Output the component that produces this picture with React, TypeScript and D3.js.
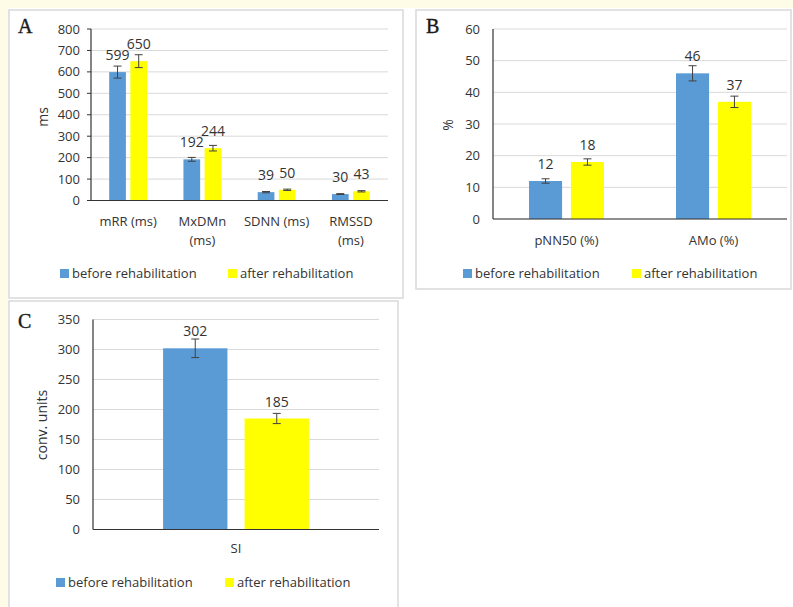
import React from "react";
import * as d3 from "d3";

// ---------- data ----------
const seriesNames = ["before rehabilitation", "after rehabilitation"];
const seriesColors = ["#5B9BD5", "#FFFF00"];

const catsA = ["mRR (ms)", "MxDMn (ms)", "SDNN (ms)", "RMSSD (ms)"];
const beforeA = [599, 192, 39, 30];
const afterA = [650, 244, 50, 43];
const errBeforeA = [28, 9, 3, 2];
const errAfterA = [30, 13, 3, 3];
const ticksA = [0, 100, 200, 300, 400, 500, 600, 700, 800];

const catsB = ["pNN50 (%)", "AMo (%)"];
const beforeB = [12, 46];
const afterB = [18, 37];
const errBeforeB = [0.7, 2.4];
const errAfterB = [1, 1.8];
const ticksB = [0, 10, 20, 30, 40, 50, 60];

const catsC = ["SI"];
const beforeC = [302];
const afterC = [185];
const errBeforeC = [15.5];
const errAfterC = [8.5];
const ticksC = [0, 50, 100, 150, 200, 250, 300, 350];

const FONT = "'Open Sans', 'DejaVu Sans', sans-serif";
const TEXT = "#333333";

type PanelProps = {
  letter: string;
  box: [number, number, number, number];
  letterPos: [number, number];
  cats: string[];
  before: number[];
  after: number[];
  errB: number[];
  errA: number[];
  ticks: number[];
  xRange: [number, number];
  yRange: [number, number];
  yTitle: string;
  yTitlePos: [number, number];
  catBaseline: number;
  legend: { y: number; xs: [number, number] };
  tickMarks: boolean;
  tickGap: number;
};

function Panel(p: PanelProps) {
  const x = d3.scaleBand<string>().domain(p.cats).range(p.xRange).padding(0);
  const y = d3
    .scaleLinear()
    .domain([p.ticks[0], p.ticks[p.ticks.length - 1]])
    .range(p.yRange);
  const bw = x.bandwidth();
  const barW = bw * 0.225;
  const gap = bw * 0.06;
  const axisX = p.xRange[0];
  const series = [
    { vals: p.before, errs: p.errB, color: seriesColors[0], off: -gap / 2 - barW },
    { vals: p.after, errs: p.errA, color: seriesColors[1], off: gap / 2 },
  ];
  const [bx, by, bw2, bh] = p.box;
  return (
    <g>
      <rect x={bx} y={by} width={bw2} height={bh} fill="#ffffff" stroke="#d9d9d9" strokeWidth={1.5} />
      <text
        x={p.letterPos[0]}
        y={p.letterPos[1]}
        fontFamily="'Liberation Serif', serif"
        fontSize={20}
        fill="#1a1a1a"
        stroke="#1a1a1a"
        strokeWidth={0.4}
      >
        {p.letter}
      </text>
      {/* gridlines */}
      {p.ticks.map((t) => (
        <line key={"g" + t} x1={axisX} x2={p.xRange[1]} y1={y(t)} y2={y(t)} stroke="#d9d9d9" strokeWidth={1} />
      ))}
      {/* tick labels */}
      {p.ticks.map((t) => (
        <text
          key={"t" + t}
          x={axisX - p.tickGap}
          y={y(t)}
          dy="0.35em"
          textAnchor="end"
          fontFamily={FONT}
          fontSize={13}
          fill={TEXT}
        >
          {t}
        </text>
      ))}
      {p.tickMarks &&
        p.ticks.map((t) => (
          <line key={"m" + t} x1={axisX - 4} x2={axisX} y1={y(t)} y2={y(t)} stroke="#333" strokeWidth={1} />
        ))}
      {/* bars */}
      {series.map((s, si) =>
        p.cats.map((c, i) => {
          const cx = (x(c) as number) + bw / 2;
          const x0 = cx + s.off;
          const v = s.vals[i];
          const e = s.errs[i];
          const mid = x0 + barW / 2;
          return (
            <g key={si + "-" + c}>
              <rect x={x0} y={y(v)} width={barW} height={y(0) - y(v)} fill={s.color} />
              <line x1={mid} x2={mid} y1={y(v + e)} y2={y(v - e)} stroke="#404040" strokeWidth={1} />
              <line x1={mid - 4} x2={mid + 4} y1={y(v + e)} y2={y(v + e)} stroke="#404040" strokeWidth={1} />
              <line x1={mid - 4} x2={mid + 4} y1={y(v - e)} y2={y(v - e)} stroke="#404040" strokeWidth={1} />
              <text x={mid} y={y(v) - 12} textAnchor="middle" fontFamily={FONT} fontSize={14} fill={TEXT}>
                {d3.format("d")(v)}
              </text>
            </g>
          );
        })
      )}
      {/* axes */}
      <line x1={axisX} x2={axisX} y1={y(p.ticks[p.ticks.length - 1])} y2={y(0)} stroke="#333" strokeWidth={1.2} />
      <line x1={axisX} x2={p.xRange[1]} y1={y(0)} y2={y(0)} stroke="#333" strokeWidth={1.2} />
      {/* category labels */}
      {p.cats.map((c) => {
        const cx = (x(c) as number) + bw / 2;
        const lines = c.length > 9 ? [c.slice(0, c.lastIndexOf(" ")), c.slice(c.lastIndexOf(" ") + 1)] : [c];
        return (
          <text key={"c" + c} textAnchor="middle" fontFamily={FONT} fontSize={13} fill={TEXT}>
            {lines.map((l, li) => (
              <tspan key={li} x={cx} y={p.catBaseline + li * 19}>
                {l}
              </tspan>
            ))}
          </text>
        );
      })}
      {/* y title */}
      <text
        transform={`translate(${p.yTitlePos[0]},${p.yTitlePos[1]}) rotate(-90)`}
        textAnchor="middle"
        dy="0.35em"
        fontFamily={FONT}
        fontSize={14}
        fill={TEXT}
      >
        {p.yTitle}
      </text>
      {/* legend */}
      {seriesNames.map((n, i) => (
        <g key={"l" + n}>
          <rect x={p.legend.xs[i]} y={p.legend.y - 9} width={9} height={9} fill={seriesColors[i]} />
          <text x={p.legend.xs[i] + 12} y={p.legend.y} fontFamily={FONT} fontSize={13} fill={TEXT}>
            {n}
          </text>
        </g>
      ))}
    </g>
  );
}

export default function App() {
  return (
    <div style={{ position: "absolute", left: 0, top: 0 }}>
      <svg width={793} height={607} style={{ display: "block" }}>
        <rect x={0} y={0} width={793} height={607} fill="#ffffff" />
        <rect x={0} y={0} width={793} height={8} fill="#fefbe7" />
        <rect x={0} y={0} width={8} height={607} fill="#fefbe7" />
        <Panel
          letter="A"
          box={[9, 10, 394, 288]}
          letterPos={[18, 33]}
          cats={catsA}
          before={beforeA}
          after={afterA}
          errB={errBeforeA}
          errA={errAfterA}
          ticks={ticksA}
          xRange={[91, 388]}
          yRange={[200.5, 29]}
          yTitle="ms"
          yTitlePos={[43, 117]}
          catBaseline={226}
          legend={{ y: 278, xs: [60, 228] }}
          tickMarks={true}
          tickGap={11}
        />
        <Panel
          letter="B"
          box={[416, 10, 375, 279]}
          letterPos={[426, 33]}
          cats={catsB}
          before={beforeB}
          after={afterB}
          errB={errBeforeB}
          errA={errAfterB}
          ticks={ticksB}
          xRange={[493, 787]}
          yRange={[219, 29]}
          yTitle="%"
          yTitlePos={[448, 125]}
          catBaseline={245}
          legend={{ y: 278, xs: [463, 632] }}
          tickMarks={false}
          tickGap={13}
        />
        <Panel
          letter="C"
          box={[9, 301, 389, 320]}
          letterPos={[18, 328]}
          cats={catsC}
          before={beforeC}
          after={afterC}
          errB={errBeforeC}
          errA={errAfterC}
          ticks={ticksC}
          xRange={[93, 379]}
          yRange={[529.5, 319.5]}
          yTitle="conv. units"
          yTitlePos={[42, 425]}
          catBaseline={553}
          legend={{ y: 587, xs: [56, 225] }}
          tickMarks={false}
          tickGap={13}
        />
      </svg>
    </div>
  );
}
